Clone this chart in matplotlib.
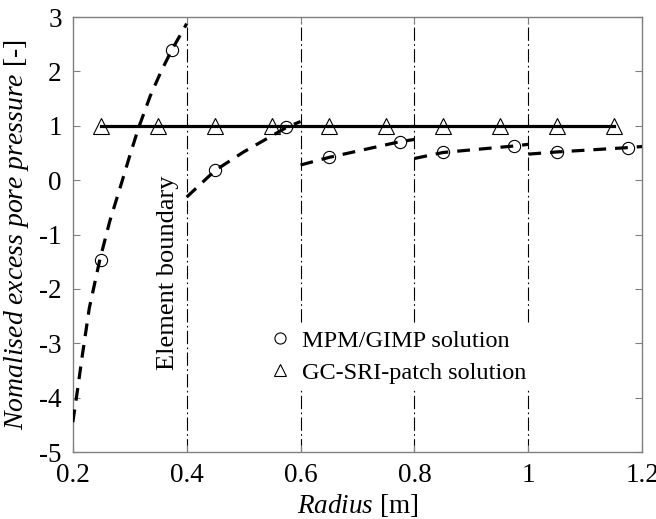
import numpy as np
import matplotlib.pyplot as plt

plt.rcParams["font.family"] = ["Liberation Serif", "DejaVu Serif"]
plt.rcParams["mathtext.fontset"] = "custom"
plt.rcParams["mathtext.rm"] = "Liberation Serif"
plt.rcParams["mathtext.it"] = "Liberation Serif:italic"
plt.rcParams["axes.unicode_minus"] = False

# MPM/GIMP material point values
mpm_x = [0.25, 0.375, 0.45, 0.575, 0.65, 0.775, 0.85, 0.975, 1.05, 1.175]
mpm_y = [-1.46, 2.40, 0.18, 0.97, 0.42, 0.71, 0.51, 0.63, 0.52, 0.60]

# piecewise pressure field inside each element
elem_x = [
    [0.20, 0.207, 0.217, 0.229, 0.2475, 0.265, 0.283, 0.30, 0.315, 0.336,
     0.355, 0.373, 0.40],
    [0.40, 0.45, 0.50, 0.575, 0.60],
    [0.60, 0.65, 0.775, 0.80],
    [0.80, 0.85, 0.975, 1.00],
    [1.00, 1.05, 1.175, 1.20],
]
elem_y = [
    [-4.45, -3.95, -3.2, -2.35, -1.46, -0.75, -0.14, 0.45, 0.95, 1.55,
     2.0, 2.38, 2.88],
    [-0.31, 0.18, 0.52, 0.97, 1.08],
    [0.28, 0.42, 0.71, 0.75],
    [0.40, 0.51, 0.63, 0.66],
    [0.48, 0.52, 0.60, 0.62],
]

# GC-SRI-patch solution
gc_x = [0.25, 0.35, 0.45, 0.55, 0.65, 0.75, 0.85, 0.95, 1.05, 1.15]
gc_y = [1, 1, 1, 1, 1, 1, 1, 1, 1, 1]

boundaries = [0.4, 0.6, 0.8, 1.0]

fig = plt.figure(figsize=(6.56, 5.19), dpi=100)
ax = fig.add_axes([0.111, 0.129, 0.868, 0.838])

for xb in boundaries:
    ax.axvline(xb, color="k", lw=0.8, ls=(0, (12, 3, 1.5, 3)), zorder=1)

for xs, ys in zip(elem_x, elem_y):
    ax.plot(xs, ys, color="k", lw=2.3, ls=(0, (4, 2.8)), zorder=3)

ax.plot(gc_x, gc_y, color="k", lw=2.3, zorder=3)
ax.plot(gc_x, gc_y, ls="none", marker="^", ms=11, mfc="none", mec="k",
        mew=0.8, zorder=4)
ax.plot(mpm_x, mpm_y, ls="none", marker="o", ms=8.8, mfc="none", mec="k",
        mew=0.8, zorder=4)

# legend handles
h1, = ax.plot([], [], ls="none", marker="o", ms=8, mfc="none", mec="k", mew=0.8)
h2, = ax.plot([], [], ls="none", marker="^", ms=9, mfc="none", mec="k", mew=0.8)
leg = ax.legend([h1, h2], ["MPM/GIMP solution", "GC-SRI-patch solution"],
                loc="lower left", bbox_to_anchor=(0.31, 0.115), frameon=True,
                fontsize=17.5, handletextpad=0.4, borderpad=0.25,
                labelspacing=0.42, handlelength=1.0)
leg.get_frame().set_edgecolor("none")
leg.get_frame().set_facecolor("white")
leg.get_frame().set_alpha(1)
leg.set_zorder(5)

ax.text(0.367, -1.7, "Element boundary", rotation=90, ha="center",
        va="center", fontsize=19, zorder=6)

ax.set_xlim(0.2, 1.2)
ax.set_ylim(-5, 3)
ax.set_xticks([0.2, 0.4, 0.6, 0.8, 1.0, 1.2])
ax.set_xticklabels(["0.2", "0.4", "0.6", "0.8", "1", "1.2"])
ax.set_yticks(range(-5, 4))
ax.tick_params(direction="in", length=5, width=0.8, color="#808080",
               labelsize=19.5, top=True, right=True, pad=8)
for s in ax.spines.values():
    s.set_color("#808080")
    s.set_linewidth(1.0)

ax.set_xlabel(r"$\mathit{Radius}$ [m]", fontsize=19.5, labelpad=3)
ax.set_ylabel(r"$\mathit{Nomalised\ excess\ pore\ pressure}$ [-]", fontsize=20,
              labelpad=6)

plt.savefig("out.png", dpi=100)
